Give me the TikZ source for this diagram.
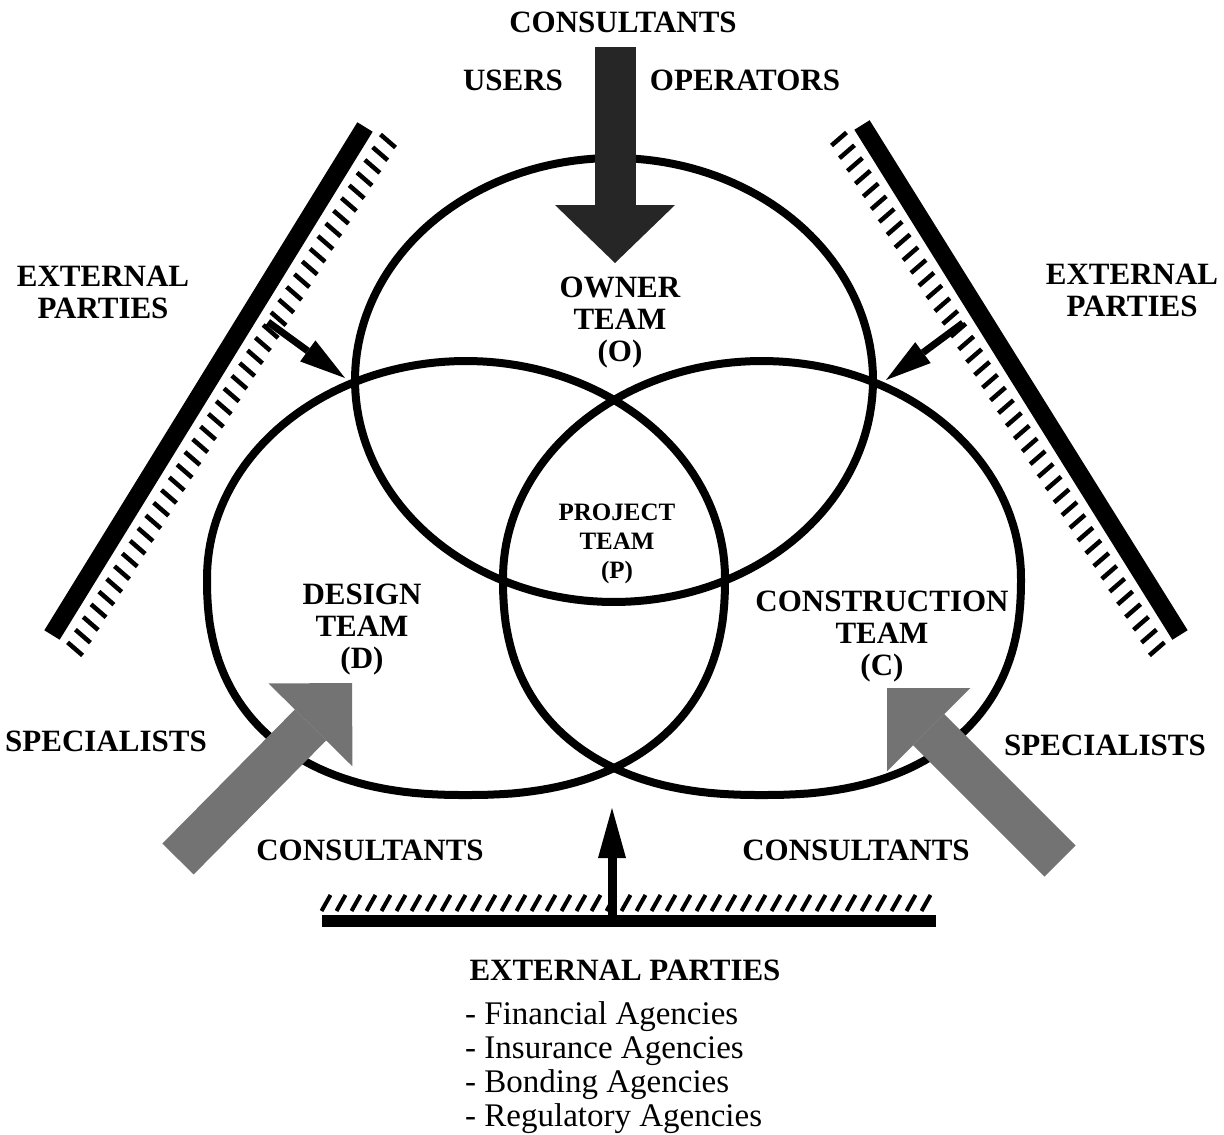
\documentclass[tikz,border=0pt]{standalone}
\usepackage{fontspec}
\setmainfont{Liberation Serif}
\usetikzlibrary{arrows.meta,calc}

\begin{document}
\begin{tikzpicture}[x=1pt, y=-1pt,
    teamline/.style={line width=8pt, line join=round},
    lbl/.style={align=center, inner sep=0pt, font=\bfseries\fontsize{31}{32}\selectfont},
    wall/.style={line width=18pt},
    tick/.style={line width=4.5pt},
    smallarr/.style={line width=7pt, -{Triangle[width=26pt,length=46pt,line width=0pt]}},
    specarr/.style={line width=44pt, black!55, -{Triangle[width=118pt,length=59pt,line width=0pt]}}]
\useasboundingbox (0,0) rectangle (1224,1135);

% The three teams (round, a little flatter at the bottom)
\foreach \cx/\cy/\ry/\nt/\nb/\name in {614/380/222/2/2/owner,
        466/578/217/2/2.35/design, 762/578/217/2/2.35/construction} {
    \coordinate (\name) at (\cx,\cy);
    \draw[teamline] plot[domain=0.5:359.5, samples=180, variable=\a]
        ({\cx + 259*sign(cos(\a))*abs(cos(\a))^(2/(\nt+(\nb-\nt)*(sin(\a)>0)))},
         {\cy + \ry*sign(sin(\a))*abs(sin(\a))^(2/(\nt+(\nb-\nt)*(sin(\a)>0)))}) -- cycle;
}

% Consultants, users and operators coming in from the top
\coordinate (ctop) at (615,47);
\coordinate (ctip) at (615,263);
\draw[line width=41pt, black!85, -{Triangle[width=120pt,length=58pt,line width=0pt]}] (ctop) -- (ctip);

% Specialists / consultants
\coordinate (lspec1) at (178,859);
\coordinate (lspec2) at (352,683);
\coordinate (rspec1) at (1060,861);
\coordinate (rspec2) at (887,688);
\draw[specarr] (lspec1) -- (lspec2);
\draw[specarr] (rspec1) -- (rspec2);

% External parties, left wall
\coordinate (lwall1) at (365,127);
\coordinate (lwall2) at (52,635);
\draw[wall] (lwall1) -- (lwall2);
\coordinate (lhatch1) at (388,141);
\coordinate (lhatch2) at (75,649);
\foreach \t in {0,0.025,...,1.01}
    \draw[tick] ($(lhatch1)!\t!(lhatch2)$) ++(-7.5,-6.5) -- ++(15,13);

% External parties, right wall
\coordinate (rwall1) at (862,125);
\coordinate (rwall2) at (1180,635);
\draw[wall] (rwall1) -- (rwall2);
\coordinate (rhatch1) at (839,139);
\coordinate (rhatch2) at (1157,649);
\foreach \t in {0,0.025,...,1.01}
    \draw[tick] ($(rhatch1)!\t!(rhatch2)$) ++(7.5,-6.5) -- ++(-15,13);

% External parties, bottom wall
\coordinate (bwall1) at (322,921);
\coordinate (bwall2) at (936,921);
\draw[line width=12pt] (bwall1) -- (bwall2);
\foreach \x in {326,341,...,936}
    \draw[tick, line width=4pt] (\x-4.5,911) -- (\x+4.5,895);

% Arrows from the walls
\coordinate (larr1) at (268,322);
\coordinate (larr2) at (345,378);
\coordinate (rarr1) at (963,323);
\coordinate (rarr2) at (886,380);
\draw[smallarr] (larr1) -- (larr2);
\draw[smallarr] (rarr1) -- (rarr2);
\coordinate (barr1) at (612,915);
\coordinate (barr2) at (612,808);
\draw[line width=9pt, -{Triangle[width=28pt,length=50pt,line width=0pt]}] (barr1) -- (barr2);

% Labels
\node[lbl] (consult-top) at (623,22) {CONSULTANTS};
\node[lbl] (users) at (513,80) {USERS};
\node[lbl] (operators) at (745,80) {OPERATORS};
\node[lbl] (ext-left) at (103,292) {EXTERNAL\\PARTIES};
\node[lbl] (ext-right) at (1132,290) {EXTERNAL\\PARTIES};
\node[lbl] (owner-l) at (620,323) {OWNER\\TEAM\\(O)};
\node[lbl, font=\bfseries\fontsize{25}{29}\selectfont] (project-l) at (617,544) {PROJECT\\TEAM\\(P)};
\node[lbl] (design-l) at (362,630) {DESIGN\\TEAM\\(D)};
\node[lbl] (construction-l) at (882,637) {CONSTRUCTION\\TEAM\\(C)};
\node[lbl] (spec-left) at (106,741) {SPECIALISTS};
\node[lbl] (spec-right) at (1105,745) {SPECIALISTS};
\node[lbl] (consult-left) at (370,850) {CONSULTANTS};
\node[lbl] (consult-right) at (856,850) {CONSULTANTS};
\node[lbl] (ext-bottom) at (625,970) {EXTERNAL PARTIES};
\node[anchor=north west, align=left, inner sep=0pt, font=\fontsize{33}{34}\selectfont] (agencies) at (465,1001) {
    - Financial Agencies\\
    - Insurance Agencies\\
    - Bonding Agencies\\
    - Regulatory Agencies};

\end{tikzpicture}
\end{document}
